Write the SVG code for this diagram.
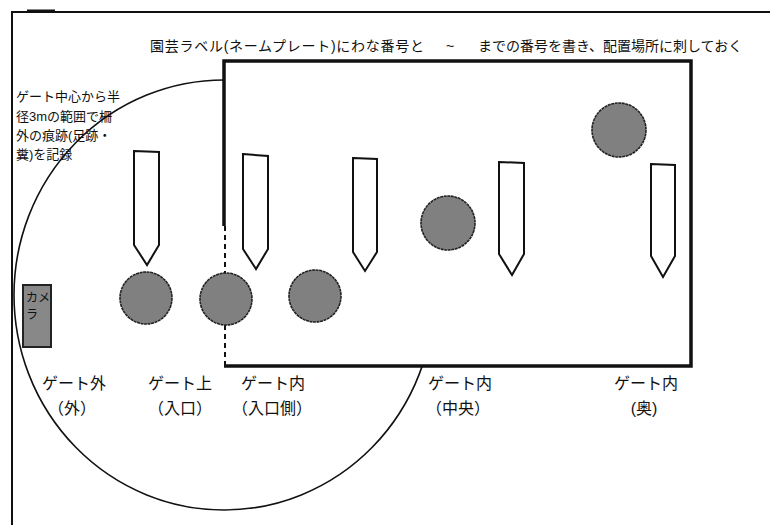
<svg xmlns="http://www.w3.org/2000/svg" width="770" height="525" viewBox="0 0 770 525">
<style>
text{font-family:"Liberation Sans","Noto Sans CJK JP",sans-serif;fill:#111}
.t{font-size:14px}
.note{font-size:13px}
.lbl{font-size:16px;text-anchor:middle}
.cam{font-size:12px}
.stake{fill:#fff;stroke:#111;stroke-width:2;stroke-linejoin:miter}
.trap{fill:#808080;stroke:#222;stroke-width:1.6;stroke-dasharray:3 0.6}
</style>
<rect width="770" height="525" fill="#fff"/>
<g id="frame" fill="none" stroke="#111">
<path d="M12 525V12H770" stroke-width="2"/>
<path d="M27 11H55" stroke-width="3"/>
</g>
<g id="title"><text class="t" x="150" y="51" textLength="274" lengthAdjust="spacing">園芸ラベル(ネームプレート)にわな番号と</text><text class="t" x="450" y="51" text-anchor="middle">~</text><text class="t" x="478" y="51">までの番号を書き、配置場所に刺しておく</text></g>
<g id="range"><ellipse cx="224" cy="295" rx="210" ry="215" fill="none" stroke="#111" stroke-width="1.6"/></g>
<g id="note"><text class="note" x="16" y="101">ゲート中心から半</text><text class="note" x="16" y="121">径3mの範囲で柵</text><text class="note" x="16" y="140">外の痕跡(足跡・</text><text class="note" x="16" y="159">糞)を記録</text></g>
<g id="enclosure">
<path d="M224 226V61H691V366H224" fill="#fff" stroke="#111" stroke-width="3.5"/>
<path d="M225 226V366" fill="none" stroke="#111" stroke-width="2" stroke-dasharray="5 4"/>
</g>
<g id="camera"><rect x="23" y="285" width="28" height="62" fill="#888" stroke="#222" stroke-width="2"/><text class="cam" x="26" y="302">カメ</text><text class="cam" x="26" y="319">ラ</text></g>
<g id="stakes">
<polygon id="stake1" class="stake" points="134,151 159,152 159,245 147,265 134,245"/>
<polygon id="stake2" class="stake" points="243,154 268,156 268,249 256,269 243,249"/>
<polygon id="stake3" class="stake" points="353,158 377,159 377,252 365,271 353,252"/>
<polygon id="stake4" class="stake" points="499,162 524,163 524,254 512,275 499,254"/>
<polygon id="stake5" class="stake" points="651,164 675,165 675,256 663,277 651,256"/>
</g>
<g id="traps">
<circle id="trap1" class="trap" cx="146" cy="298" r="26"/>
<circle id="trap2" class="trap" cx="226" cy="299" r="26"/>
<circle id="trap3" class="trap" cx="315" cy="296" r="26"/>
<circle id="trap4" class="trap" cx="448" cy="223" r="27"/>
<circle id="trap5" class="trap" cx="619" cy="130" r="27"/>
</g>
<g id="labels">
<text class="lbl" x="74" y="389">ゲート外</text><text class="lbl" x="72" y="414">（外）</text>
<text class="lbl" x="180" y="389">ゲート上</text><text class="lbl" x="180" y="414">（入口）</text>
<text class="lbl" x="273" y="389">ゲート内</text><text class="lbl" x="272" y="414">（入口側）</text>
<text class="lbl" x="460" y="389">ゲート内</text><text class="lbl" x="458" y="414">（中央）</text>
<text class="lbl" x="646" y="389">ゲート内</text><text class="lbl" x="644" y="414">(奥)</text>
</g>
</svg>
